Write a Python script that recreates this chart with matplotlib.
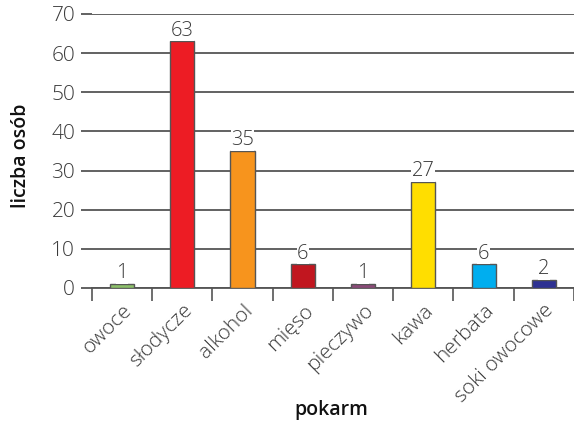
import numpy as np
import matplotlib.pyplot as plt

categories = ['owoce', 'słodycze', 'alkohol', 'mięso', 'pieczywo', 'kawa', 'herbata', 'soki owocowe']
values = [1, 63, 35, 6, 1, 27, 6, 2]
colors = ['#8cc06a', '#ed1c24', '#f7941d', '#c1161f', '#8b4a78', '#ffde00', '#00aeef', '#2e3192']

plt.rcParams['font.family'] = ['Open Sans', 'DejaVu Sans']
plt.rcParams['font.weight'] = 'light'

fig = plt.figure(figsize=(5.74, 4.21), dpi=100)
ax = fig.add_axes([0.160, 0.316, 0.840, 0.651])

x = np.arange(len(categories))
ax.bar(x, values, width=0.4, color=colors, edgecolor='#555555', linewidth=1.0, zorder=3)

for xi, v in zip(x, values):
    ax.text(xi, v + 0.2, str(v), ha='center', va='bottom', fontsize=14.5, color='#3a3a3a',
            zorder=4, bbox=dict(facecolor='white', edgecolor='none', pad=0.3))

ax.set_ylim(0, 70)
ax.set_xlim(-0.5, 7.44)
ax.set_yticks(np.arange(0, 71, 10))
ax.grid(axis='y', color='#555555', linewidth=1.3, zorder=0)
ax.tick_params(axis='y', length=8, width=1.3, color='#555555', labelsize=15, labelcolor='#3a3a3a', pad=4)

ax.set_xticks(x)
ax.set_xticklabels(categories, rotation=45, ha='right', va='top', rotation_mode='anchor',
                   fontsize=15, color='#3a3a3a')
ax.tick_params(axis='x', which='major', length=0, pad=9)
ax.set_xticks(np.arange(-0.5, 8, 1.0), minor=True)
ax.tick_params(axis='x', which='minor', length=9, width=1.2, color='#555555')

for s in ['top', 'right', 'left']:
    ax.spines[s].set_visible(False)
ax.spines['bottom'].set_color('#555555')
ax.spines['bottom'].set_linewidth(1.3)

fig.text(0.037, 0.63, 'liczba osób', rotation=90, ha='center', va='center',
         fontsize=14, fontweight='semibold', color='#111111')
fig.text(0.577, 0.025, 'pokarm', ha='center', va='center',
         fontsize=14, fontweight='semibold', color='#111111')

fig.savefig('out.png', dpi=100)
